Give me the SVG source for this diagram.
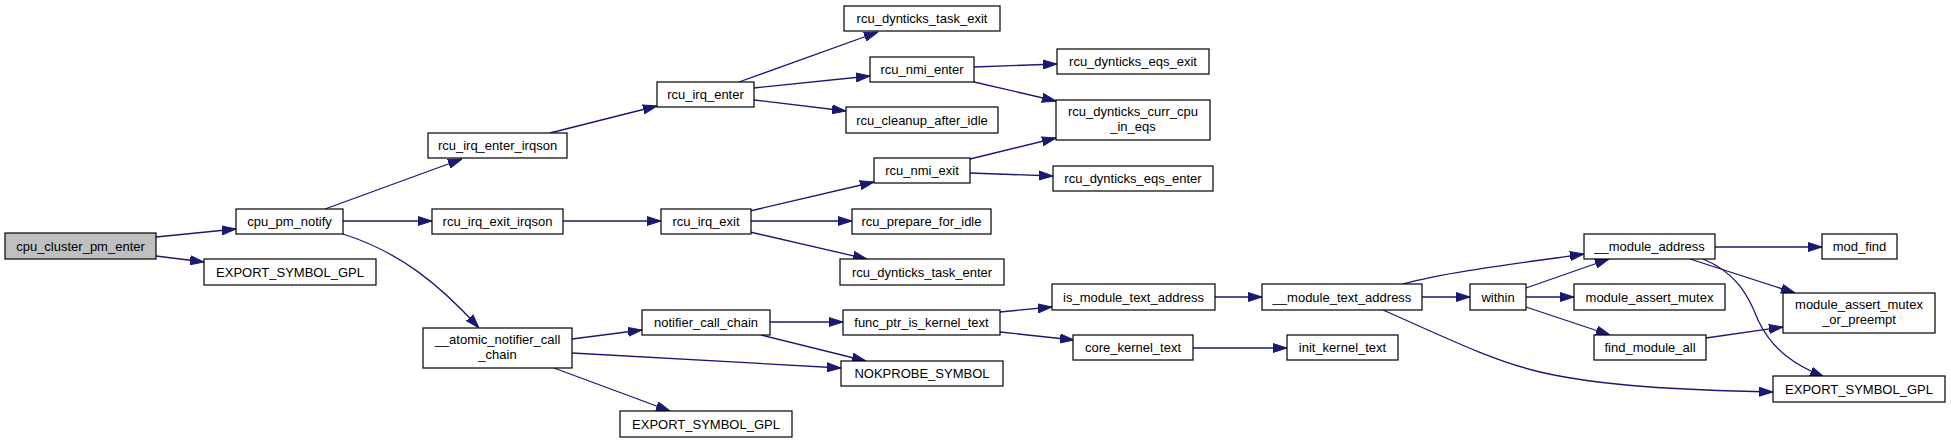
<svg xmlns="http://www.w3.org/2000/svg" width="1951" height="443" viewBox="0 0 1951 443">
<style>
.n rect{fill:#ffffff;stroke:#000000;stroke-width:1.2}
.n.root rect{fill:#bfbfbf}
.n text{font-family:"Liberation Sans",Arial,Helvetica,sans-serif;font-size:13px;fill:#000000;text-anchor:middle}
.e path{fill:none;stroke:#191970;stroke-width:1.3;marker-end:url(#ah)}
</style>
<defs>
<marker id="ah" markerUnits="userSpaceOnUse" markerWidth="14" markerHeight="10" refX="14" refY="5" orient="auto">
<path d="M0,0.5 L14,5 L0,9.5 z" fill="#191970" stroke="#191970" stroke-width="1"/>
</marker>
</defs>
<rect width="1951" height="443" fill="#ffffff"/>
<g id="connectors" class="e">
<path d="M156,237 L236,229"/>
<path d="M156,256 L204,262"/>
<path d="M325,209 L462,159"/>
<path d="M343,221 L432,221"/>
<path d="M343,234 C400,252 440,285 479,328"/>
<path d="M550,133 L657,106"/>
<path d="M563,221 L661,221"/>
<path d="M572,339 L642,330"/>
<path d="M572,353 L841,368"/>
<path d="M554,368 L670,411"/>
<path d="M739,82 L878,32"/>
<path d="M754,88 L870,76"/>
<path d="M754,100 L846,111"/>
<path d="M750,211 L874,182"/>
<path d="M751,221 L852,221"/>
<path d="M750,232 L867,259"/>
<path d="M770,322 L843,322"/>
<path d="M761,335 L866,361"/>
<path d="M974,67 L1057,64"/>
<path d="M974,82 L1056,101"/>
<path d="M970,159 L1056,138"/>
<path d="M970,173 L1053,176"/>
<path d="M1000,312 L1052,307"/>
<path d="M1000,332 L1074,340"/>
<path d="M1215,297 L1262,297"/>
<path d="M1193,348 L1287,348"/>
<path d="M1422,297 L1470,297"/>
<path d="M1403,284 C1450,271 1530,262 1584,254"/>
<path d="M1383,310 C1440,335 1490,360 1540,372 C1600,386 1680,390 1773,392"/>
<path d="M1526,288 L1609,259"/>
<path d="M1526,297 L1574,297"/>
<path d="M1526,307 L1610,335"/>
<path d="M1715,247 L1822,247"/>
<path d="M1690,259 L1795,293"/>
<path d="M1703,259 C1735,272 1748,294 1758,320 C1772,350 1795,365 1824,377"/>
<path d="M1706,338 L1783,327"/>
</g>
<g id="cpu_cluster_pm_enter" class="n root"><rect x="5" y="233" width="151" height="26"/><text x="80.5" y="250.5">cpu_cluster_pm_enter</text></g>
<g id="cpu_pm_notify" class="n"><rect x="236" y="209" width="107" height="25"/><text x="289.5" y="226">cpu_pm_notify</text></g>
<g id="export_symbol_gpl_1" class="n"><rect x="204" y="259" width="172" height="26"/><text x="290" y="276.5">EXPORT_SYMBOL_GPL</text></g>
<g id="rcu_irq_enter_irqson" class="n"><rect x="428" y="133" width="139" height="25"/><text x="497.5" y="150">rcu_irq_enter_irqson</text></g>
<g id="rcu_irq_exit_irqson" class="n"><rect x="432" y="209" width="131" height="25"/><text x="497.5" y="226">rcu_irq_exit_irqson</text></g>
<g id="atomic_notifier_call_chain" class="n"><rect x="423" y="328" width="149" height="40"/><text x="497.5" y="344">__atomic_notifier_call</text><text x="497.5" y="359">_chain</text></g>
<g id="export_symbol_gpl_2" class="n"><rect x="620" y="411" width="172" height="26"/><text x="706" y="428.5">EXPORT_SYMBOL_GPL</text></g>
<g id="rcu_irq_enter" class="n"><rect x="657" y="82" width="97" height="25"/><text x="705.5" y="99">rcu_irq_enter</text></g>
<g id="rcu_irq_exit" class="n"><rect x="661" y="209" width="90" height="25"/><text x="706" y="226">rcu_irq_exit</text></g>
<g id="notifier_call_chain" class="n"><rect x="642" y="310" width="128" height="25"/><text x="706" y="327">notifier_call_chain</text></g>
<g id="rcu_dynticks_task_exit" class="n"><rect x="844" y="6" width="156" height="25"/><text x="922" y="23">rcu_dynticks_task_exit</text></g>
<g id="rcu_nmi_enter" class="n"><rect x="870" y="57" width="104" height="25"/><text x="922" y="74">rcu_nmi_enter</text></g>
<g id="rcu_cleanup_after_idle" class="n"><rect x="846" y="107" width="152" height="26"/><text x="922" y="124.5">rcu_cleanup_after_idle</text></g>
<g id="rcu_nmi_exit" class="n"><rect x="874" y="158" width="96" height="25"/><text x="922" y="175">rcu_nmi_exit</text></g>
<g id="rcu_prepare_for_idle" class="n"><rect x="852" y="209" width="139" height="25"/><text x="921.5" y="226">rcu_prepare_for_idle</text></g>
<g id="rcu_dynticks_task_enter" class="n"><rect x="840" y="259" width="164" height="26"/><text x="922" y="276.5">rcu_dynticks_task_enter</text></g>
<g id="func_ptr_is_kernel_text" class="n"><rect x="843" y="310" width="157" height="25"/><text x="921.5" y="327">func_ptr_is_kernel_text</text></g>
<g id="nokprobe_symbol" class="n"><rect x="841" y="361" width="162" height="25"/><text x="922" y="378">NOKPROBE_SYMBOL</text></g>
<g id="rcu_dynticks_eqs_exit" class="n"><rect x="1057" y="49" width="152" height="25"/><text x="1133" y="66">rcu_dynticks_eqs_exit</text></g>
<g id="rcu_dynticks_curr_cpu_in_eqs" class="n"><rect x="1056" y="100" width="154" height="40"/><text x="1133" y="116">rcu_dynticks_curr_cpu</text><text x="1133" y="131">_in_eqs</text></g>
<g id="rcu_dynticks_eqs_enter" class="n"><rect x="1053" y="166" width="160" height="25"/><text x="1133" y="183">rcu_dynticks_eqs_enter</text></g>
<g id="is_module_text_address" class="n"><rect x="1052" y="284" width="163" height="26"/><text x="1133.5" y="301.5">is_module_text_address</text></g>
<g id="core_kernel_text" class="n"><rect x="1073" y="335" width="120" height="25"/><text x="1133" y="352">core_kernel_text</text></g>
<g id="module_text_address" class="n"><rect x="1262" y="284" width="160" height="26"/><text x="1342" y="301.5">__module_text_address</text></g>
<g id="init_kernel_text" class="n"><rect x="1287" y="335" width="111" height="25"/><text x="1342.5" y="352">init_kernel_text</text></g>
<g id="within" class="n"><rect x="1470" y="284" width="56" height="26"/><text x="1498" y="301.5">within</text></g>
<g id="module_address" class="n"><rect x="1584" y="234" width="131" height="25"/><text x="1649.5" y="251">__module_address</text></g>
<g id="module_assert_mutex" class="n"><rect x="1574" y="284" width="151" height="26"/><text x="1649.5" y="301.5">module_assert_mutex</text></g>
<g id="find_module_all" class="n"><rect x="1594" y="335" width="112" height="25"/><text x="1650" y="352">find_module_all</text></g>
<g id="mod_find" class="n"><rect x="1822" y="234" width="75" height="25"/><text x="1859.5" y="251">mod_find</text></g>
<g id="module_assert_mutex_or_preempt" class="n"><rect x="1783" y="293" width="152" height="40"/><text x="1859" y="309">module_assert_mutex</text><text x="1859" y="324">_or_preempt</text></g>
<g id="export_symbol_gpl_3" class="n"><rect x="1773" y="376" width="172" height="26"/><text x="1859" y="393.5">EXPORT_SYMBOL_GPL</text></g>
</svg>
